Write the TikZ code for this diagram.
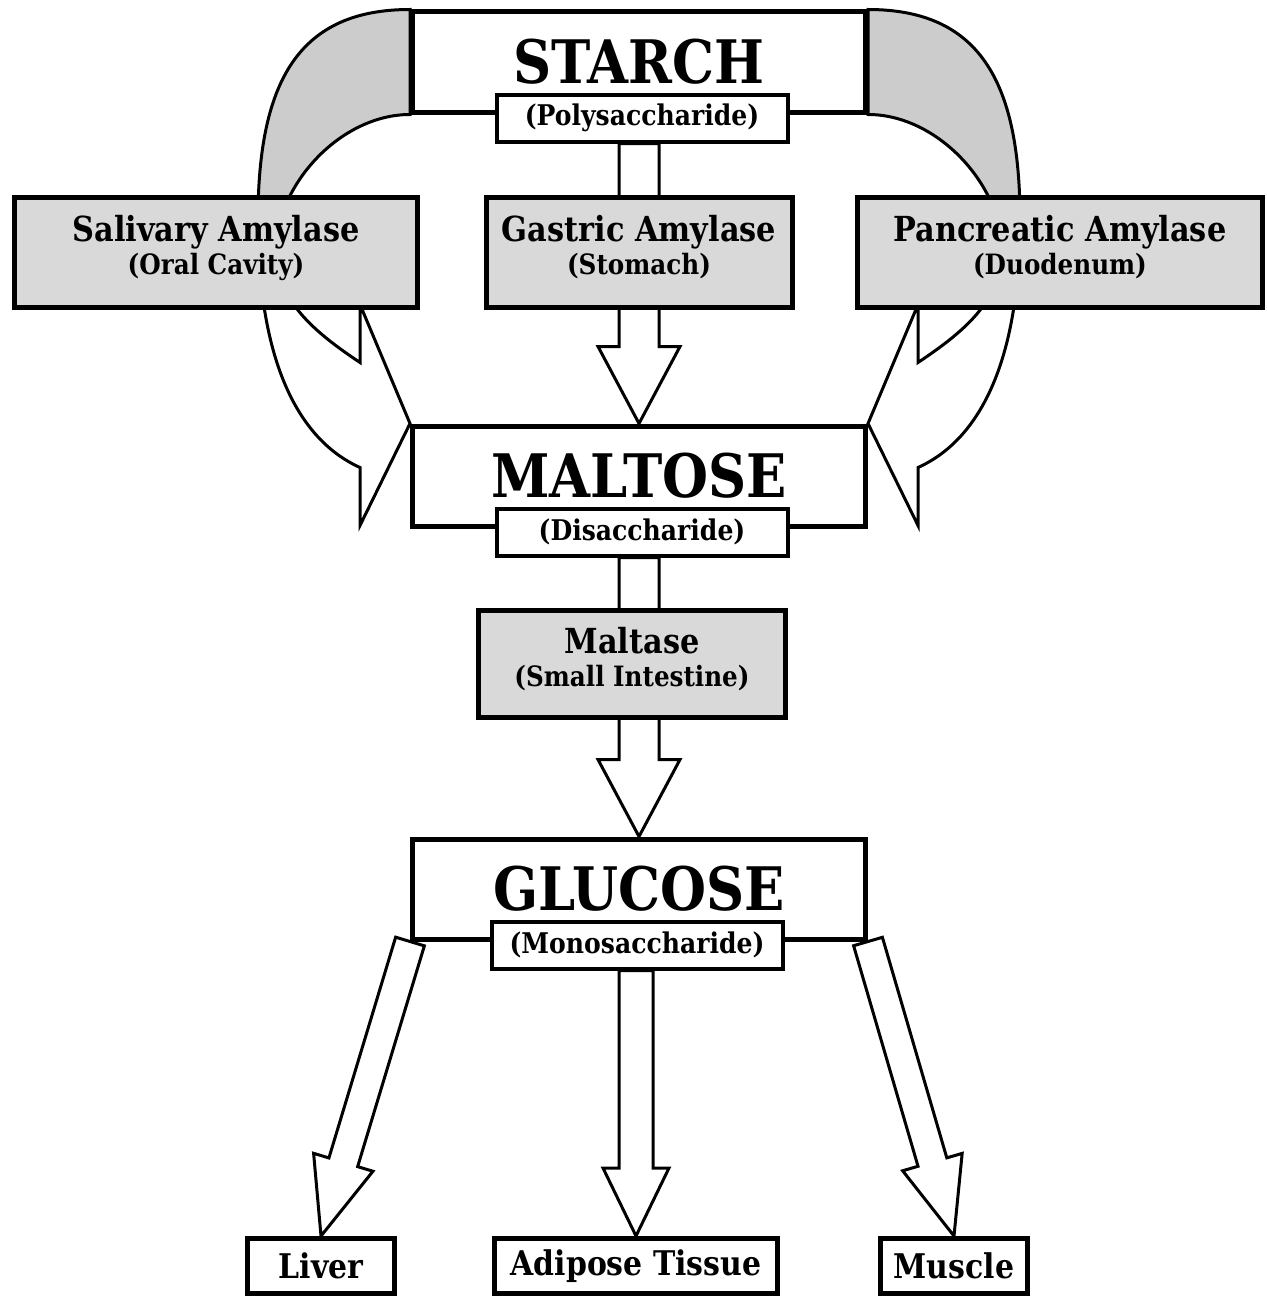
\documentclass[tikz,border=0pt]{standalone}
\usepackage{fontspec}
\setmainfont{DejaVu Serif}[FakeStretch=0.88]
\usetikzlibrary{positioning,calc,backgrounds}

\definecolor{enzymegray}{gray}{0.85}
\definecolor{bendgray}{gray}{0.80}

\tikzset{
  sugar/.style={draw, line width=5pt, fill=white, minimum width=453pt, minimum height=100pt,
    inner sep=0pt, font=\bfseries\fontsize{60}{60}\selectfont},
  kind/.style={draw, line width=4pt, fill=white, minimum width=291pt, minimum height=47pt,
    inner sep=0pt, font=\bfseries\fontsize{28.5}{28.5}\selectfont},
  enzyme/.style={draw, line width=5pt, fill=enzymegray, minimum height=110pt, inner sep=0pt,
    text depth=14pt, align=center, font=\bfseries\fontsize{34.5}{35}\selectfont},
  organ/.style={draw, line width=5pt, fill=white, minimum height=55pt, inner sep=0pt,
    font=\bfseries\fontsize{34}{34}\selectfont},
  hollow/.style={draw, line width=3pt, fill=white, line join=miter},
  archway/.style={draw, line width=3pt, fill=white, line join=miter,
    path picture={\fill[bendgray] (path picture bounding box.north west)
      rectangle (path picture bounding box.east |- salivary.center);}},
}

% second line of an enzyme box
\newcommand{\where}[1]{\\[-2pt]{\fontsize{28}{28}\selectfont #1}}

% hollow block arrow: from, to, half shaft, half head, head length
\newcommand{\fatarrow}[5]{%
  \draw[hollow] let \p1=($(#2)-(#1)$), \n1={atan2(\y1,\x1)}, \n2={veclen(\x1,\y1)} in
    [shift={(#1)}, rotate=\n1]
    (0pt,#3) -- ({\n2*1pt-#5},#3) -- ({\n2*1pt-#5},#4) -- ({\n2*1pt},0pt)
    -- ({\n2*1pt-#5},-#4) -- ({\n2*1pt-#5},-#3) -- (0pt,-#3) -- cycle;}

\begin{document}
\begin{tikzpicture}[x=1pt, y=-1pt, on grid, node distance=414pt]
  \useasboundingbox (0,0) rectangle (1266,1298);

  \node[sugar]                        (starch)      at (639,62)                     {STARCH};
  \node[kind]                         (starch_sub)  [below right=56pt and 3pt of starch] {(Polysaccharide)};
  \node[enzyme, minimum width=306pt]  (gastric)     [below=190pt of starch]          {Gastric Amylase\where{(Stomach)}};
  \node[enzyme, minimum width=403pt]  (salivary)    [left=423pt of gastric]          {Salivary Amylase\where{(Oral Cavity)}};
  \node[enzyme, minimum width=405pt]  (pancreatic)  [right=421pt of gastric]         {Pancreatic Amylase\where{(Duodenum)}};
  \node[sugar]                        (maltose)     [below=of starch]                {MALTOSE};
  \node[kind]                         (maltose_sub) [below right=56pt and 3pt of maltose] {(Disaccharide)};
  \node[enzyme, minimum width=307pt, minimum height=107pt]
                                      (maltase)     [below left=188pt and 7pt of maltose] {Maltase\where{(Small Intestine)}};
  \node[sugar]                        (glucose)     [below=413pt of maltose]         {GLUCOSE};
  \node[kind]                         (glucose_sub) [below left=56pt and 2pt of glucose] {(Monosaccharide)};
  \node[organ, minimum width=283pt]   (adipose)     [below left=377pt and 3pt of glucose] {Adipose Tissue};
  \node[organ, minimum width=147pt]   (liver)       [left=315pt of adipose]          {Liver};
  \node[organ, minimum width=147pt]   (muscle)      [right=318pt of adipose]         {Muscle};

  \begin{scope}[on background layer]
    % amylase arcs round the side boxes
    \foreach \side/\s in {west/1, east/-1}
      \draw[archway] (starch.north \side)
        .. controls +(-110*\s,0) and +(0,-140) .. ++(-152*\s,210)
        .. controls +(0,145) and +(-60*\s,-27) .. ($(maltose.north \side)+(-50*\s,44)$)
        -- ++(0,58) -- (maltose.north \side) -- ++(-50*\s,-119) -- ++(0,58)
        .. controls +(-45*\s,-30) and +(0,50) .. ++(-84*\s,-112)
        .. controls +(0,-65) and +(-70*\s,0) .. (starch.south \side) -- cycle;
    \fatarrow{starch_sub.south -| maltose.north}{maltose.north}{20pt}{41pt}{77pt}
    \fatarrow{maltose_sub.south -| glucose.north}{glucose.north}{20pt}{41pt}{77pt}
    \fatarrow{glucose_sub.south -| adipose.north}{adipose.north}{17pt}{33pt}{68pt}
  \end{scope}

  \fatarrow{glucose.south west}{liver.north}{15pt}{31pt}{77pt}
  \fatarrow{glucose.south east}{muscle.north}{15pt}{31pt}{77pt}
\end{tikzpicture}
\end{document}
